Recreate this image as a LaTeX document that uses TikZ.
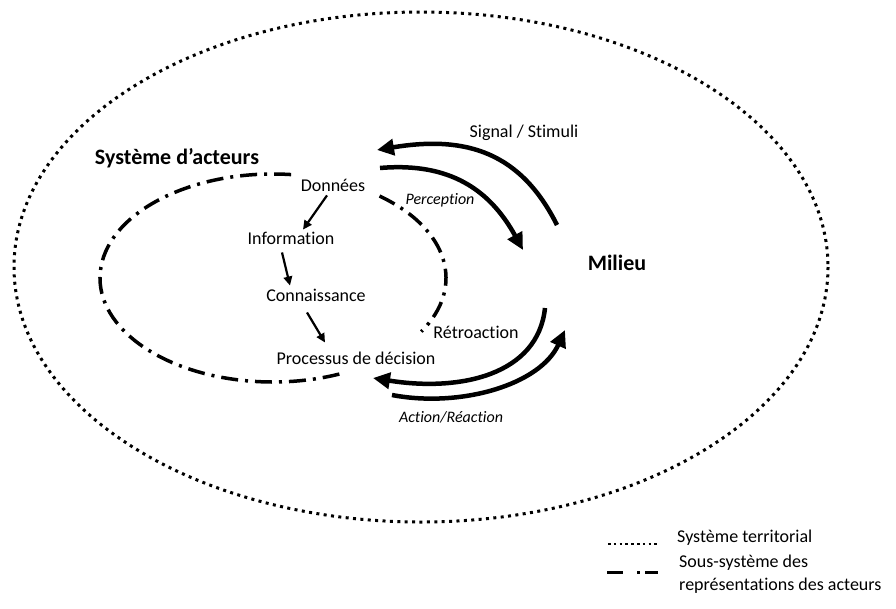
\documentclass[tikz,border=0pt]{standalone}
\usepackage{fontspec}
\setmainfont{Carlito}[Ligatures=NoCommon]
\usetikzlibrary{arrows.meta}
\begin{document}
\begin{tikzpicture}[x=1pt,y=-1pt,
  txt/.style={font=\fontsize{18}{23}\selectfont, inner sep=1pt},
  btxt/.style={font=\fontsize{22}{26}\selectfont\bfseries, inner sep=1pt},
  itxt/.style={font=\fontsize{16}{19}\selectfont\itshape, inner sep=1pt},
  bigarrow/.style={line width=4.5pt, -{Triangle[length=17pt,width=16pt]}},
  smallarrow/.style={line width=2.2pt, -{Triangle[length=9pt,width=8.5pt]}},
  territ/.style={line width=3pt, dash pattern=on 3pt off 4.4pt},
  sousys/.style={line width=3.5pt, dash pattern=on 17pt off 7pt on 3pt off 7pt},
]
\useasboundingbox (0,0) rectangle (896,608);

% outer territorial system
\draw[territ] (421,267) ellipse [x radius=407, y radius=255];

% inner sub-system (dash-dot, two open arcs)
\draw[sousys] (273,278) ++(-84:173 and 104) arc[start angle=-84, end angle=-294, x radius=173, y radius=104];
\draw[sousys] (273,278) ++(-52:173 and 104) arc[start angle=-52, end angle=31, x radius=173, y radius=104];

% texts
\node[btxt] (sys) at (177,158) {Système d’acteurs};
\node[btxt] (mil) at (617,263) {Milieu};
\node[txt] (don) at (333,185) {Données};
\node[txt] (info) at (291,238) {Information};
\node[txt] (conn) at (316,295) {Connaissance};
\node[txt] (proc) at (356,358) {Processus de décision};
\node[txt] (retro) at (476,332) {Rétroaction};
\node[txt] (sig) at (524,133) {Signal / Stimuli};
\node[itxt] (perc) at (440,200) {Perception};
\node[itxt] (act) at (451,417) {Action/Réaction};

% small arrows of the chain
\draw[smallarrow] ([shift={(-6,3)}]don.south) -- ([shift={(12,-1)}]info.north);
\draw[smallarrow] ([shift={(-9,7)}]info.south) -- ([shift={(-26,-2)}]conn.north);
\draw[smallarrow] ([shift={(-9,10)}]conn.south) -- ([shift={(-31,-8)}]proc.north);

% big arrows
\coordinate (sigT) at (557,225);
\coordinate (sigH) at (377,150);
\coordinate (perT) at (380,168);
\coordinate (perH) at (523,250);
\coordinate (retT) at (545,308);
\coordinate (retH) at (373,378);
\coordinate (actT) at (392,395);
\coordinate (actH) at (565,330);
\draw[bigarrow] (sigT) .. controls (521,153) and (467,135) .. (sigH);
\draw[bigarrow] (perT) .. controls (450,162) and (490,190) .. (perH);
\draw[bigarrow] (retT) .. controls (538,375) and (460,392) .. (retH);
\draw[bigarrow] (actT) .. controls (460,408) and (540,385) .. (actH);

% legend
\coordinate (l1a) at (608,544);
\coordinate (l1b) at (660,544);
\draw[line width=2.5pt, dash pattern=on 2.5pt off 3.3pt] (l1a) -- (l1b);
\node[txt, anchor=west] (leg1) at (676,538) {Système territorial};
\coordinate (l2a) at (607,572);
\coordinate (l2b) at (658,572);
\draw[line width=3pt, dash pattern=on 16pt off 14pt on 3pt off 5pt on 13pt off 10pt] (l2a) -- (l2b);
\node[txt, anchor=west, align=left] (leg2) at (678,574) {Sous-système des\\représentations des acteurs};
\end{tikzpicture}
\end{document}
